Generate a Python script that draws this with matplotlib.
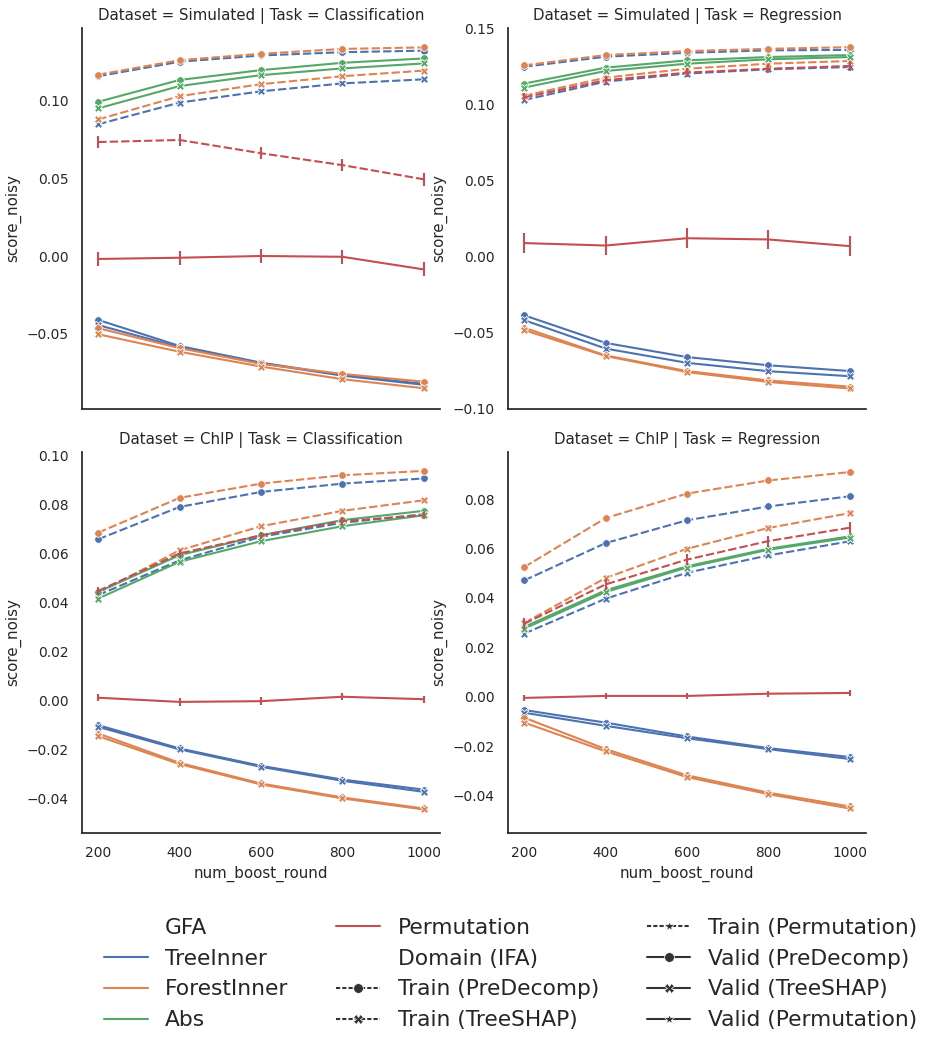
import numpy as np
import matplotlib.pyplot as plt
import seaborn as sns
from matplotlib.lines import Line2D

# x axis
rounds = [200, 400, 600, 800, 1000]

gfa_levels = ["TreeInner", "ForestInner", "Abs", "Permutation"]
domain_levels = ["Train (PreDecomp)", "Train (TreeSHAP)", "Train (Permutation)",
                 "Valid (PreDecomp)", "Valid (TreeSHAP)", "Valid (Permutation)"]

# (GFA, Domain) of every line, same order as the rows of the value tables
series = [
    ("TreeInner", "Train (PreDecomp)"),
    ("TreeInner", "Train (TreeSHAP)"),
    ("TreeInner", "Valid (PreDecomp)"),
    ("TreeInner", "Valid (TreeSHAP)"),
    ("ForestInner", "Train (PreDecomp)"),
    ("ForestInner", "Train (TreeSHAP)"),
    ("ForestInner", "Valid (PreDecomp)"),
    ("ForestInner", "Valid (TreeSHAP)"),
    ("Abs", "Valid (PreDecomp)"),
    ("Abs", "Valid (TreeSHAP)"),
    ("Permutation", "Train (Permutation)"),
    ("Permutation", "Valid (Permutation)"),
]

# score_noisy, Simulated / Classification
sim_clf = [
    [0.1153, 0.1246, 0.1286, 0.1307, 0.1317],
    [0.0845, 0.0984, 0.1056, 0.1107, 0.1133],
    [-0.0410, -0.0577, -0.0684, -0.0763, -0.0820],
    [-0.0443, -0.0585, -0.0688, -0.0767, -0.0826],
    [0.1163, 0.1256, 0.1297, 0.1328, 0.1338],
    [0.0876, 0.1025, 0.1102, 0.1153, 0.1189],
    [-0.0463, -0.0591, -0.0692, -0.0756, -0.0806],
    [-0.0502, -0.0614, -0.0709, -0.0790, -0.0848],
    [0.0989, 0.1129, 0.1192, 0.1239, 0.1267],
    [0.0947, 0.1090, 0.1160, 0.1203, 0.1235],
    [0.0731, 0.0744, 0.0659, 0.0583, 0.0492],
    [-0.0019, -0.0011, 0.0000, -0.0005, -0.0086],
]
sim_clf_err = [0.0012, 0.0015, 0.0015, 0.0015, 0.0012, 0.0015,
               0.0015, 0.0015, 0.0015, 0.0015, 0.004, 0.0045]

# Simulated / Regression
sim_reg = [
    [0.125, 0.1316, 0.1342, 0.1358, 0.1361],
    [0.1031, 0.1152, 0.1205, 0.1233, 0.1248],
    [-0.0388, -0.0570, -0.0663, -0.0717, -0.0755],
    [-0.0420, -0.0607, -0.0701, -0.0756, -0.0789],
    [0.1259, 0.1327, 0.1353, 0.1368, 0.1379],
    [0.1059, 0.1178, 0.1237, 0.1270, 0.1288],
    [-0.0470, -0.0652, -0.0755, -0.0817, -0.0858],
    [-0.0486, -0.0656, -0.0762, -0.0827, -0.0870],
    [0.1139, 0.1244, 0.1292, 0.1314, 0.1327],
    [0.1113, 0.1222, 0.1270, 0.1299, 0.1314],
    [0.1048, 0.1161, 0.1211, 0.1237, 0.1255],
    [0.0088, 0.0072, 0.0120, 0.0112, 0.0068],
]
sim_reg_err = [0.0015, 0.0015, 0.002, 0.002, 0.0015, 0.0015,
               0.002, 0.002, 0.002, 0.002, 0.003, 0.0065]

# ChIP / Classification
chip_clf = [
    [0.0657, 0.0789, 0.0850, 0.0884, 0.0905],
    [0.0429, 0.0571, 0.0667, 0.0724, 0.0759],
    [-0.0102, -0.0197, -0.0268, -0.0324, -0.0365],
    [-0.0109, -0.0201, -0.0272, -0.0329, -0.0374],
    [0.0684, 0.0826, 0.0884, 0.0918, 0.0936],
    [0.0438, 0.0612, 0.0710, 0.0773, 0.0816],
    [-0.0136, -0.0256, -0.0340, -0.0397, -0.0442],
    [-0.0147, -0.0261, -0.0344, -0.0401, -0.0446],
    [0.0442, 0.0592, 0.0673, 0.0735, 0.0773],
    [0.0415, 0.0565, 0.0649, 0.0710, 0.0755],
    [0.0446, 0.0599, 0.0673, 0.0731, 0.0755],
    [0.0010, -0.0007, -0.0004, 0.0014, 0.0004],
]
chip_clf_err = [0.0008, 0.001, 0.0012, 0.0012, 0.0008, 0.001,
                0.0012, 0.0012, 0.001, 0.001, 0.0015, 0.0015]

# ChIP / Regression
chip_reg = [
    [0.0471, 0.0622, 0.0714, 0.0770, 0.0811],
    [0.0256, 0.0397, 0.0502, 0.0572, 0.0629],
    [-0.0053, -0.0104, -0.0160, -0.0207, -0.0243],
    [-0.0064, -0.0117, -0.0167, -0.0211, -0.0251],
    [0.0525, 0.0723, 0.0822, 0.0875, 0.0909],
    [0.0299, 0.0481, 0.0599, 0.0683, 0.0743],
    [-0.0084, -0.0211, -0.0317, -0.0387, -0.0443],
    [-0.0104, -0.0220, -0.0324, -0.0393, -0.0451],
    [0.0283, 0.0431, 0.0528, 0.0599, 0.0649],
    [0.0276, 0.0424, 0.0523, 0.0595, 0.0644],
    [0.0296, 0.0455, 0.0555, 0.0630, 0.0684],
    [-0.0004, 0.0004, 0.0004, 0.0013, 0.0016],
]
chip_reg_err = [0.0012, 0.0012, 0.0012, 0.0012, 0.0012, 0.0012,
                0.0012, 0.0012, 0.001, 0.001, 0.0022, 0.0012]

panels = [
    ("Simulated", "Classification", sim_clf, sim_clf_err, (-0.0981, 0.1462)),
    ("Simulated", "Regression", sim_reg, sim_reg_err, (-0.1005, 0.1505)),
    ("ChIP", "Classification", chip_clf, chip_clf_err, (-0.0542, 0.1013)),
    ("ChIP", "Regression", chip_reg, chip_reg_err, (-0.055, 0.099)),
]

sns.set_theme(style="white", context="notebook", font_scale=0.9)

colors = dict(zip(gfa_levels, sns.color_palette("deep")[:4]))
markers = {"PreDecomp": "o", "TreeSHAP": "X", "Permutation": "*"}

def method_of(domain):
    return domain.split("(")[1].rstrip(")")

fig, axes = plt.subplots(2, 2, figsize=(9.35, 10.5), sharex=True)
fig.subplots_adjust(left=0.0877, right=0.9262, top=0.9733, bottom=0.2067,
                    wspace=0.19, hspace=0.113)

for ax, (ds, task, values, errs, ylim) in zip(axes.flat, panels):
    for (gfa, dom), y, e in zip(series, values, errs):
        c = colors[gfa]
        ls = "--" if dom.startswith("Train") else "-"
        m = markers[method_of(dom)]
        if gfa == "Permutation":
            m = None   # only the error bars show up for these
        ax.errorbar(rounds, y, yerr=e, fmt="none", ecolor=c, elinewidth=1.5)
        ax.plot(rounds, y, color=c, ls=ls, lw=1.5, dashes=(4, 1.5) if ls == "--" else (None, None),
                marker=m, ms=5.5, mec="w", mew=0.6)
    ax.set_title(f"Dataset = {ds} | Task = {task}")
    ax.set_ylabel("score_noisy")
    ax.set_ylim(*ylim)
    ax.set_xticks(rounds)

for ax in axes[1]:
    ax.set_xlabel("num_boost_round")
sns.despine(fig)

# legend, seaborn style: subtitles as entries without handles
handles, labels = [], []
blank = Line2D([], [], lw=0, marker=None)
handles.append(blank); labels.append("GFA")
for g in gfa_levels:
    handles.append(Line2D([], [], color=colors[g], lw=1.5)); labels.append(g)
handles.append(blank); labels.append("Domain (IFA)")
for d in domain_levels:
    ls = "--" if d.startswith("Train") else "-"
    handles.append(Line2D([], [], color=".2", ls=ls, lw=1.5,
                          dashes=(2, 1) if ls == "--" else (None, None),
                          marker=markers[method_of(d)], ms=7, mec="w", mew=0.5))
    labels.append(d)

fig.legend(handles, labels, loc="lower center", bbox_to_anchor=(0.546, 0.0),
           ncol=3, frameon=False, fontsize=15.7, labelspacing=0.5,
           columnspacing=2.2)

fig.savefig("out.png", dpi=100)
